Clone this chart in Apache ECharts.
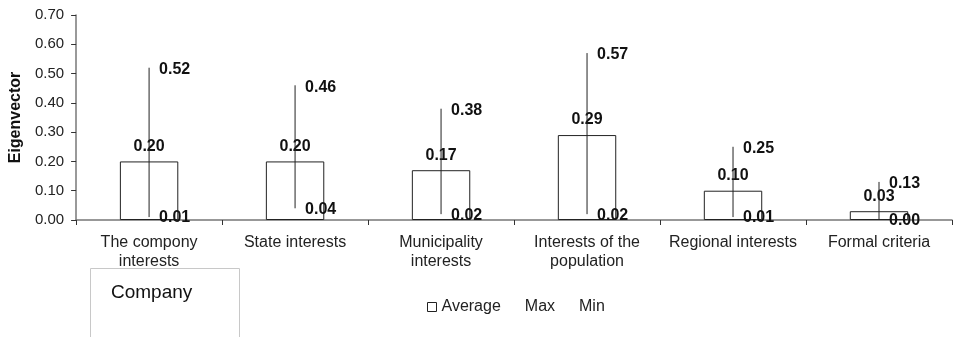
<!DOCTYPE html>
<html>
<head>
<meta charset="utf-8">
<script src="https://cdn.jsdelivr.net/npm/echarts@6/dist/echarts.min.js"></script>
<style>html,body{margin:0;padding:0;background:#fff;}#c{width:953px;height:337px;}</style>
</head>
<body>
<div id="c"></div>
<script>
var categories = ['The compony\ninterests', 'State interests', 'Municipality\ninterests', 'Interests of the\npopulation', 'Regional interests', 'Formal criteria'];
var averageValues = [0.20, 0.20, 0.17, 0.29, 0.10, 0.03];
var maxValues = [0.52, 0.46, 0.38, 0.57, 0.25, 0.13];
var minValues = [0.01, 0.04, 0.02, 0.02, 0.01, 0.00];
var yTicks = { min: 0, max: 0.7, interval: 0.1 };

var FONT = '"Liberation Sans", Arial, sans-serif';
var chart = echarts.init(document.getElementById('c'), null, { renderer: 'canvas' });

var rangeData = categories.map(function (c, i) { return [i, minValues[i], maxValues[i]]; });

chart.setOption({
  animation: false,
  backgroundColor: '#fff',
  textStyle: { fontFamily: FONT },
  grid: { left: 76, right: 1, top: 15, bottom: 117, containLabel: false },
  legend: {
    left: 422, top: 294,
    itemWidth: 9, itemHeight: 9, itemGap: 10,
    textStyle: { fontFamily: FONT, fontSize: 16, color: '#222' },
    data: [
      { name: 'Average', icon: 'rect', itemStyle: { color: '#fff', borderColor: '#222', borderWidth: 1 } },
      { name: 'Max', icon: 'rect', itemStyle: { color: 'rgba(0,0,0,0)', borderWidth: 0, opacity: 0 } },
      { name: 'Min', icon: 'rect', itemStyle: { color: 'rgba(0,0,0,0)', borderWidth: 0, opacity: 0 } }
    ]
  },
  xAxis: {
    type: 'category',
    data: categories,
    axisLine: { lineStyle: { color: '#777', width: 1.5 } },
    axisTick: { show: true, length: 5, inside: false, lineStyle: { color: '#333' } },
    axisLabel: { fontFamily: FONT, fontSize: 16, color: '#222', margin: 13, lineHeight: 19, interval: 0 }
  },
  yAxis: {
    type: 'value',
    min: yTicks.min, max: yTicks.max, interval: yTicks.interval,
    name: 'Eigenvector',
    nameLocation: 'middle',
    nameGap: 52,
    nameTextStyle: { fontFamily: FONT, fontSize: 16, fontWeight: 'bold', color: '#111' },
    axisLine: { show: true, lineStyle: { color: '#777', width: 1.5 } },
    axisTick: { show: true, length: 5, lineStyle: { color: '#333' } },
    splitLine: { show: false },
    axisLabel: { fontFamily: FONT, fontSize: 15, color: '#222', margin: 12,
      formatter: function (v) { return v.toFixed(2); } }
  },
  graphic: [
    { type: 'rect', left: 90, top: 268, shape: { width: 149, height: 80 },
      style: { fill: '#fff', stroke: '#c8c8c8', lineWidth: 1 }, z: 10 },
    { type: 'text', left: 111, top: 283, z: 11,
      style: { text: 'Company', fontFamily: FONT, fontSize: 19, fill: '#111' } }
  ],
  series: [
    {
      name: 'Average', type: 'bar', data: averageValues, barWidth: '40%',
      itemStyle: { color: '#fff', borderColor: '#222', borderWidth: 1 },
      label: { show: true, position: 'top', distance: 7, fontFamily: FONT, fontSize: 16, fontWeight: 'bold', color: '#111',
        formatter: function (p) { return p.value.toFixed(2); } },
      z: 2
    },
    {
      name: 'Range', type: 'custom', data: rangeData, z: 3,
      encode: { x: 0, y: [1, 2] },
      renderItem: function (params, api) {
        var lo = api.coord([api.value(0), api.value(1)]);
        var hi = api.coord([api.value(0), api.value(2)]);
        return { type: 'line', shape: { x1: lo[0], y1: lo[1], x2: hi[0], y2: hi[1] },
          style: { stroke: '#222', lineWidth: 1 } };
      }
    },
    {
      name: 'Max', type: 'scatter', data: maxValues, symbolSize: 0, z: 4,
      itemStyle: { color: '#222', opacity: 1 },
      label: { show: true, position: 'right', distance: 10, offset: [0, 2], fontFamily: FONT, fontSize: 16, fontWeight: 'bold', color: '#111',
        formatter: function (p) { return p.value.toFixed(2); } }
    },
    {
      name: 'Min', type: 'scatter', data: minValues, symbolSize: 0, z: 4,
      itemStyle: { color: '#222', opacity: 1 },
      label: { show: true, position: 'right', distance: 10, offset: [0, 1], fontFamily: FONT, fontSize: 16, fontWeight: 'bold', color: '#111',
        formatter: function (p) { return p.value.toFixed(2); } }
    }
  ]
});
</script>
</body>
</html>
